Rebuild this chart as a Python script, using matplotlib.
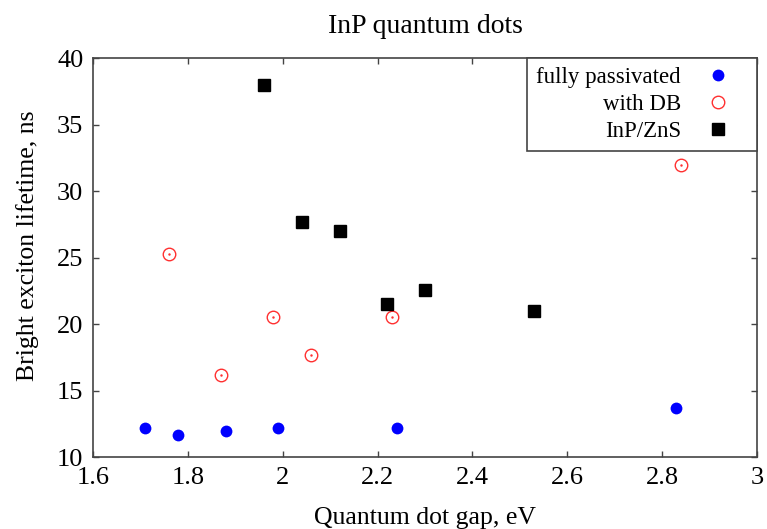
import matplotlib.pyplot as plt

plt.rcParams['font.family'] = ['Liberation Serif', 'DejaVu Serif']

# fully passivated
gap_fp = [1.71, 1.78, 1.88, 1.99, 2.24, 2.83]
life_fp = [12.2, 11.65, 11.95, 12.2, 12.2, 13.7]
# with dangling bond
gap_db = [1.76, 1.87, 1.98, 2.06, 2.23, 2.84]
life_db = [25.3, 16.2, 20.5, 17.7, 20.5, 32.0]
# InP/ZnS
gap_zns = [1.96, 2.04, 2.12, 2.22, 2.30, 2.53]
life_zns = [38.0, 27.7, 27.0, 21.5, 22.6, 21.0]

fig = plt.figure(figsize=(7.67, 5.29), dpi=100)
ax = fig.add_axes([0.1213, 0.136, 0.8657, 0.754])

ax.plot(gap_fp, life_fp, 'o', color='#0000ff', ms=8.5, mec='none',
        label='fully passivated')
ax.plot(gap_db, life_db, 'o', mfc='none', mec='#ff3030', ms=9, mew=1.0,
        label='with DB')
ax.plot(gap_db, life_db, '.', color='#ff3030', ms=1.5)
ax.plot(gap_zns, life_zns, 's', color='black', ms=8, label='InP/ZnS')

ax.set_xlim(1.6, 3.0)
ax.set_ylim(10, 40)
ax.set_xticks([1.6, 1.8, 2.0, 2.2, 2.4, 2.6, 2.8, 3.0])
ax.set_xticklabels(['1.6', '1.8', '2', '2.2', '2.4', '2.6', '2.8', '3'])
ax.set_yticks(range(10, 41, 5))
ax.tick_params(direction='in', top=True, right=True, length=4.5,
               width=1.0, color='#444444', labelsize=19, pad=7)
for s in ax.spines.values():
    s.set_color('#444444')
    s.set_linewidth(1.2)

ax.set_title('InP quantum dots', fontsize=20, pad=18)
ax.set_xlabel('Quantum dot gap, eV', fontsize=18.5, labelpad=13)
ax.set_ylabel('Bright exciton lifetime, ns', fontsize=18.5)
ax.yaxis.set_label_coords(-0.081, 0.53)

leg = ax.legend(loc='upper right', markerfirst=False, fontsize=16.5,
                borderaxespad=0, fancybox=False, framealpha=1,
                handlelength=2.6, handletextpad=0.32, labelspacing=0.25,
                borderpad=0.4)
leg.get_frame().set_edgecolor('#444444')
leg.get_frame().set_linewidth(1.2)

fig.savefig('out.png', dpi=100)
